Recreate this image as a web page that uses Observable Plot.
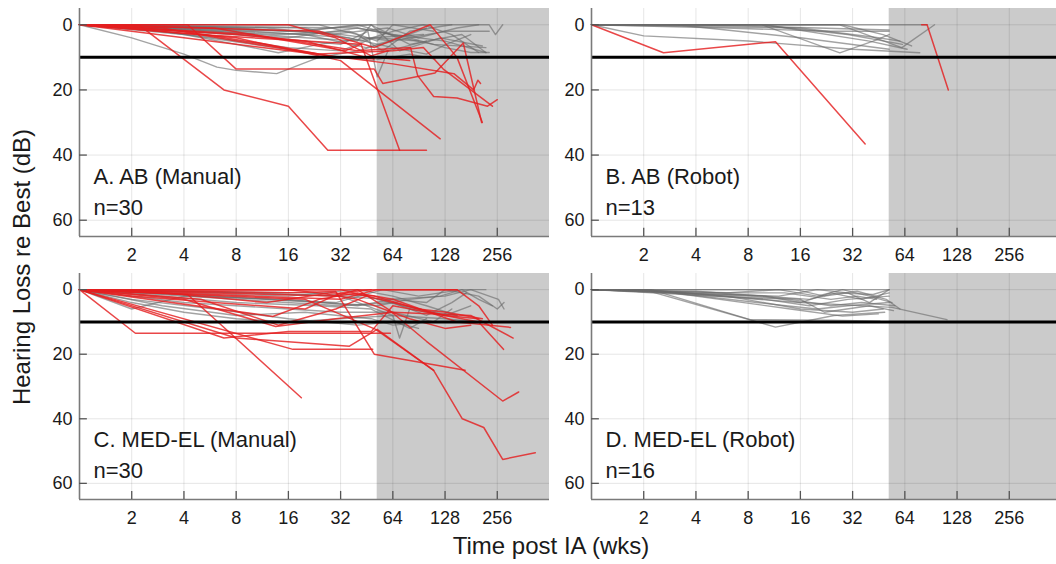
<!DOCTYPE html>
<html><head><meta charset="utf-8">
<script src="https://cdn.jsdelivr.net/npm/d3@7"></script>
<script src="https://cdn.jsdelivr.net/npm/@observablehq/plot@0.6"></script>
<style>
html,body{margin:0;padding:0;background:#fff;overflow:hidden}
#wrap{position:relative;width:1056px;height:564px;overflow:hidden;font-family:"Liberation Sans",Arial,sans-serif;color:#1a1a1a}
.panel{position:absolute}
.panel svg{overflow:visible;display:block}
#xt{position:absolute;left:551px;top:534px;transform:translateX(-50%);font-size:24px;line-height:24px;white-space:nowrap}
#yt{position:absolute;left:22px;top:267px;transform:translate(-50%,-50%) rotate(-90deg);font-size:24px;line-height:24px;white-space:nowrap}
</style></head><body><div id="wrap"><div id="xt">Time post IA (wks)</div><div id="yt">Hearing Loss re Best (dB)</div></div>
<script>
// ---- ticks ----
const xTicks = [2, 4, 8, 16, 32, 64, 128, 256];
const yTicks = [0, 20, 40, 60];
const shadeStart = 52;   // weeks (1 year)
const criterion = 10;    // dB

// ---- panel labels ----
const labels = ["A. AB (Manual)", "B. AB (Robot)", "C. MED-EL (Manual)", "D. MED-EL (Robot)"];
const counts = ["n=30", "n=13", "n=30", "n=16"];

// ---- A. AB (Manual) : [weeks, dB] ----
const aRed = [
  [[1,0],[2.2,0],[6.8,20],[16,25],[27,38.5],[100,38.5]],
  [[1,0],[5,3],[20,5],[42,6],[70,38.5]],
  [[1,0],[8,4],[32,11],[120,35]],
  [[1,0],[24,2],[50,7],[105,0],[150,10],[210,30]],
  [[1,0],[4.2,0],[8,13.6],[50,13.6],[56,18],[112,14.8],[163,5.6],[208,30]],
  [[1,0],[10,3],[40,8],[81,7],[89,15.6],[110,22],[150,22.5],[225,25],[256,23]],
  [[1,0],[16,8],[64,12],[144,15],[187,20],[198,17],[205,18]],
  [[1,0],[3,1],[8,5],[24,9],[64,8],[96,7],[125,13.6],[240,25]],
  [[1,0],[16,0],[30,4],[50,10],[80,11]],
  [[1,0],[2,1],[8,3],[20,5],[45,10],[60,8]],
  [[1,0],[4,2],[12,6],[30,10],[50,10.5]],
  [[1,0],[6,1],[16,5],[34,8],[42,6]]
];
const aGray = [
  [[1,0],[2,4],[4,9],[6.2,13],[8,14],[13.7,15],[24,10],[40,8],[64,5]],
  [[1,0],[4,3],[8,6],[14,8.6],[24,6],[48,4],[96,3]],
  [[1,0],[32,0],[64,0],[128,0],[230,0],[250,3],[275,0]],
  [[1,0],[8,1],[32,3],[64,5],[128,2],[230,2]],
  [[1,0],[16,2],[48,0],[80,6],[160,3],[220,8.5]],
  [[1,0],[4,2],[16,4],[40,1],[64,3],[128,5],[220,8.5]],
  [[1,0],[8,3],[32,6],[46,2],[52,16],[60,8],[100,5]],
  [[1,0],[6,2],[20,4],[40,5],[48,0],[70,8],[120,4],[210,6.5]],
  [[1,0],[12,1],[28,3],[60,1],[90,4],[150,1],[200,0]],
  [[1,0],[24,0],[40,3],[56,8],[80,2],[140,0]],
  [[1,0],[10,2],[36,4],[64,7],[100,9],[130,6],[180,3]],
  [[1,0],[5,1],[20,2],[40,0],[72,4],[110,6],[220,7]],
  [[1,0],[3,2],[10,6],[24,9],[48,11],[80,9],[112,10.5]],
  [[1,0],[20,1],[42,5],[64,2],[96,0],[140,3],[200,8.5]],
  [[1,0],[2,1],[6,4],[16,7],[32,8],[50,4],[90,5]],
  [[1,0],[14,3],[36,2],[52,5],[64,0],[110,2]],
  [[1,0],[40,1],[80,4],[128,7],[180,8.5],[230,8.5]],
  [[1,0],[8,2],[20,3],[45,7],[70,4],[100,1]]
];

// ---- B. AB (Robot) ----
const bRed = [
  [[1,0],[2.6,8.6],[11.5,5.2],[37.8,36.6]],
  [[80,0],[86,0],[114,20]]
];
const bGray = [
  [[1,0],[86,0]],
  [[1,0],[2,3.4],[8,5],[32,7.5],[78,8.6]],
  [[1,0],[9.6,0],[27,8.6],[42,5],[52,3]],
  [[1,0],[27,0],[61.5,7],[95,0]],
  [[1,0],[4,0],[20,1],[52,1.6]],
  [[1,0],[3.1,0],[16,4],[52,7.5]],
  [[1,0],[9.4,0],[30,3],[62,6]],
  [[1,0],[6,1],[24,2],[52,2]],
  [[1,0],[10,0],[40,5],[66,7.5]],
  [[1,0],[28,0],[48,3],[70,6.5]],
  [[1,0],[16,1],[45,4],[60,5]]
];

// ---- C. MED-EL (Manual) ----
const cRed = [
  [[1,0],[4.2,1.5],[19,33.5]],
  [[1,0],[20,3],[51,12.3],[110,25],[161,40],[214,42.7],[275,52.6],[424,50.5]],
  [[1,0],[30,2],[40,0],[60,6],[100,16],[275,34.5],[340,31.7]],
  [[1,0],[16,1],[30,0.6],[50,20],[167,25]],
  [[1,0],[2.1,13.5],[62,13.5]],
  [[1,0],[17,18.5],[49,18.5]],
  [[1,0],[8,15],[36,17.5],[52,12.3],[110,25]],
  [[1,0],[6.8,15],[16,13],[48,13],[64,5],[128,8],[200,9]],
  [[1,0],[13,8.3],[24,3],[40,1],[64,3],[150,10],[305,11.7]],
  [[1,0],[4,3],[13.5,11.4],[30,9],[64,7],[180,8],[316,15]],
  [[1,0],[32,0],[64,4],[128,8],[200,10],[278,18.5]],
  [[1,0],[10,2],[32,3],[52,0],[100,0],[150,0],[200,5],[240,11]],
  [[1,0],[3,1],[12,4],[28,1],[50,2],[90,6],[130,7],[210,9]],
  [[1,0],[64,0],[120,0],[150,0]],
  [[1,0],[2,2],[6,4],[20,6],[32,1],[48,0]],
  [[1,0],[16,0],[24,1],[40,3],[80,9],[128,12],[180,11]],
  [[1,0],[5,3],[14,11],[30,6],[45,2]]
];
const cGray = [
  [[1,0],[2,4],[4,7],[8,9],[16,10],[32,9],[64,8],[128,9],[200,10]],
  [[1,0],[2,6],[4,2],[16,3],[40,5],[64,3],[100,4],[128,0],[200,2],[256,6],[280,4]],
  [[1,0],[8,1],[32,2],[64,8],[70,15],[80,6],[128,8],[180,5]],
  [[1,0],[4,4],[16,6],[32,7],[64,7],[110,10],[140,6]],
  [[1,0],[16,2],[40,0],[64,2],[100,5],[150,8]],
  [[1,0],[12,3],[30,4],[56,0],[90,2],[160,0],[220,0]],
  [[1,0],[3,5],[8,8],[20,7],[48,9],[64,11],[100,10]],
  [[1,0],[6,2],[24,4],[52,5],[80,3],[120,2],[160,0],[200,3],[240,5]],
  [[1,0],[20,1],[45,2],[72,5],[110,7],[150,8]],
  [[1,0],[2,3],[6,6],[16,9],[40,11],[64,10],[90,12]],
  [[1,0],[10,1],[30,2],[60,3],[128,2],[180,0],[260,3],[280,6]],
  [[1,0],[32,5],[64,4],[100,8],[140,4],[170,1]],
  [[1,0],[8,4],[24,5],[48,6],[80,12],[100,9]]
];

// ---- D. MED-EL (Robot) ----
const dRed = [];
const dGray = [
  [[1,0],[52,0]],
  [[1,0],[2,0],[11.5,11.6],[25,8],[49,7]],
  [[1,0],[2.2,0],[8.2,9.3],[24,9.5],[46,9.8]],
  [[1,0],[3,1],[16,4],[54,5.5],[112,9.3]],
  [[1,0],[2.5,0.5],[14,6],[28,8.2],[45,7.5]],
  [[1,0],[4,1],[10,2],[16,4],[24,1],[36,3],[52,1]],
  [[1,0],[6,1],[12,0],[20,2],[28,0],[40,2],[54,4]],
  [[1,0],[8,2],[16,3],[22,7],[40,5],[55,6.5]],
  [[1,0],[2,0],[10,3],[18,5],[30,3],[52,2]],
  [[1,0],[5,2],[14,3],[24,5],[36,4],[56,5]],
  [[1,0],[3,1],[12,2],[20,0],[30,1],[40,4],[52,0]],
  [[1,0],[2,0],[6,2],[16,6],[32,7],[48,6]],
  [[1,0],[7,1],[13,1],[24,3],[34,2],[44,3]],
  [[1,0],[2,0],[9,4],[20,6],[30,5],[52,4]],
  [[1,0],[15,0],[22,2],[34,0.5],[50,3],[60,6]],
  [[1,0],[4,0.5],[18,3],[26,1],[42,1.5],[52,0]]
];

const X_DOMAIN = [1, 512];
const Y_DOMAIN = [-5, 65];

function rowsOf(lines, tag) {
  const out = [];
  lines.forEach((l, i) => l.forEach(([w, db]) => out.push({id: tag + i, w, db})));
  return out;
}

function panel(red, gray, label, count, left, top, width, mLeft, mBottom) {
  const height = 270;
  const chart = Plot.plot({
    width, height,
    marginLeft: mLeft, marginRight: width - mLeft - 470, marginTop: 8, marginBottom: mBottom,
    x: {type: "log", base: 2, domain: X_DOMAIN, label: null},
    y: {domain: Y_DOMAIN, reverse: true, label: null},
    style: {background: "transparent", fontFamily: "'Liberation Sans', Arial, sans-serif", maxWidth: "none", overflow: "visible", color: "#1a1a1a"},
    marks: [
      Plot.rect([0], {x1: shadeStart, x2: X_DOMAIN[1], y1: Y_DOMAIN[0], y2: Y_DOMAIN[1], fill: "#cbcbcb"}),
      Plot.gridX(xTicks, {stroke: "#000", strokeOpacity: 0.1, strokeWidth: 1}),
      Plot.gridY(yTicks, {stroke: "#000", strokeOpacity: 0.1, strokeWidth: 1}),
      Plot.line(rowsOf(gray, "g"), {x: "w", y: "db", z: "id", stroke: "#6a6a6a", strokeOpacity: 0.62, strokeWidth: 1.4}),
      Plot.line(rowsOf(red, "r"), {x: "w", y: "db", z: "id", stroke: "#e41e20", strokeOpacity: 0.82, strokeWidth: 1.5}),
      Plot.ruleY([criterion], {stroke: "#000", strokeWidth: 3}),
      Plot.ruleX([X_DOMAIN[0]], {stroke: "#7a7a7a", strokeWidth: 1.6}),
      Plot.ruleY([Y_DOMAIN[1]], {stroke: "#7a7a7a", strokeWidth: 1.6}),
      Plot.ruleX(xTicks, {y1: Y_DOMAIN[1], y2: Y_DOMAIN[1] - 2.5, stroke: "#555", strokeWidth: 1.3}),
      Plot.ruleY(yTicks, {x1: X_DOMAIN[0], x2: 1.11, stroke: "#555", strokeWidth: 1.3}),
      Plot.axisX(xTicks, {tickSize: 0, tickPadding: 12, fontSize: 18, label: null, tickFormat: d => String(d), fill: "#1a1a1a"}),
      Plot.axisY(yTicks, {tickSize: 0, tickPadding: 7, fontSize: 18, label: null, tickFormat: d => String(d), fill: "#1a1a1a"}),
      Plot.text([label], {text: d => d, frameAnchor: "bottom-left", dx: 14, dy: -60, textAnchor: "start", lineAnchor: "middle", fontSize: 22, fill: "#1a1a1a"}),
      Plot.text([count], {text: d => d, frameAnchor: "bottom-left", dx: 14, dy: -29, textAnchor: "start", lineAnchor: "middle", fontSize: 22, fill: "#1a1a1a"})
    ]
  });
  const div = document.createElement("div");
  div.className = "panel";
  div.style.left = left + "px";
  div.style.top = top + "px";
  div.style.width = width + "px";
  div.appendChild(chart);
  document.getElementById("wrap").appendChild(div);
}

panel(aRed, aGray, labels[0], counts[0], 0, 0, 560, 79, 34);
panel(bRed, bGray, labels[1], counts[1], 530, 0, 540, 61, 34);
panel(cRed, cGray, labels[2], counts[2], 0, 265, 560, 79, 36);
panel(dRed, dGray, labels[3], counts[3], 530, 265, 540, 61, 36);
</script></body></html>
